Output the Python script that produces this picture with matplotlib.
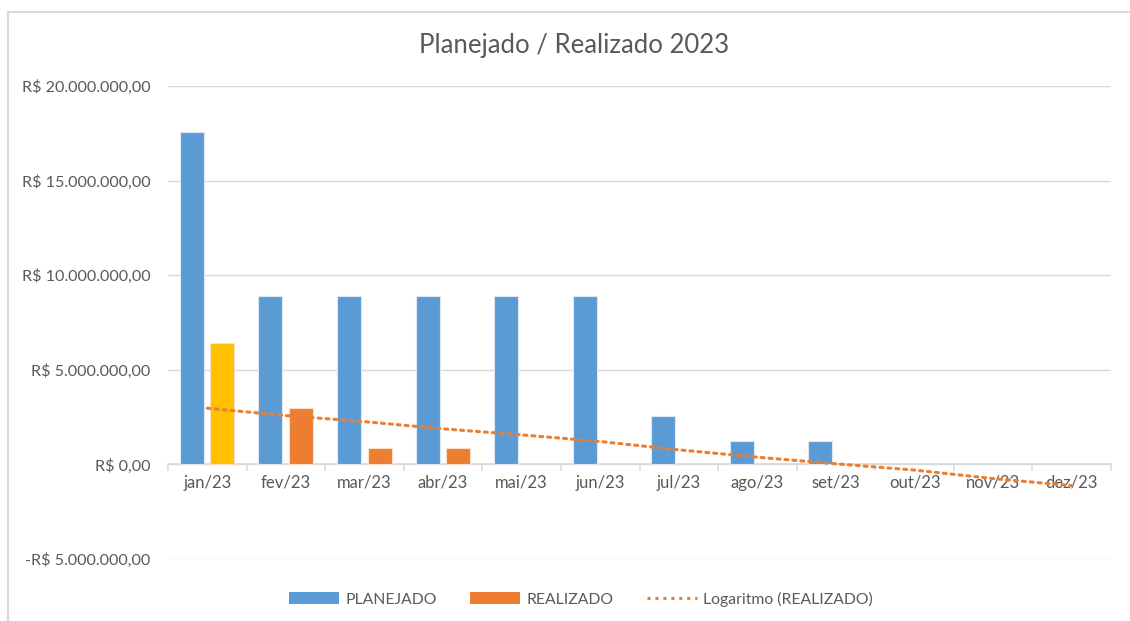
import numpy as np
import matplotlib.pyplot as plt
from matplotlib.lines import Line2D
from matplotlib.patches import Patch

plt.rcParams['font.family'] = ['Lato', 'DejaVu Sans']

meses = ["jan/23", "fev/23", "mar/23", "abr/23", "mai/23", "jun/23",
         "jul/23", "ago/23", "set/23", "out/23", "nov/23", "dez/23"]
planejado = [17.55e6, 8.92e6, 8.92e6, 8.92e6, 8.92e6, 8.92e6,
             2.55e6, 1.23e6, 1.23e6, 0, 0, 0]
realizado = [6.41e6, 2.97e6, 0.86e6, 0.86e6, 0, 0, 0, 0, 0, 0, 0, 0]
# tendencia logaritmica
tendencia = [2.97e6, 2.58e6, 2.26e6, 1.88e6, 1.56e6, 1.21e6,
             0.77e6, 0.38e6, 0.03e6, -0.30e6, -0.75e6, -1.12e6]
yticks = [-5e6, 0, 5e6, 10e6, 15e6, 20e6]

AZUL = '#5B9BD5'
LARANJA = '#ED7D31'
AMARELO = '#FFC000'
CINZA = '#595959'


def brl(v):
    s = f"{abs(v):,.2f}".replace(",", "X").replace(".", ",").replace("X", ".")
    return ("-R$ " if v < 0 else "R$ ") + s


fig = plt.figure(figsize=(11.3, 6.21), dpi=100)
ax = fig.add_axes([168 / 1130, 1 - 559 / 621, (1111 - 168) / 1130, (559 - 86) / 621])

x = np.arange(len(meses))
w = 0.305
cores_real = [AMARELO] + [LARANJA] * (len(meses) - 1)
borda_plan = ['#DCE9F5' if v else 'none' for v in planejado]
borda_real = ['#FBE0CC' if v else 'none' for v in realizado]
ax.bar(x - 0.197, planejado, w, color=AZUL, edgecolor=borda_plan, linewidth=0.8, zorder=3)
ax.bar(x + 0.193, realizado, w, color=cores_real, edgecolor=borda_real, linewidth=0.8, zorder=3)
ax.plot(x, tendencia, color=LARANJA, linestyle=(0, (1, 1.6)), linewidth=2.2,
        dash_capstyle='round', zorder=4)

ax.set_xlim(-0.5, 11.5)
ax.set_ylim(-5e6, 20e6)
ax.set_yticks(yticks)
ax.set_yticklabels([brl(v) for v in yticks], color=CINZA, fontsize=11.6)
ax.tick_params(axis='y', length=0, pad=12.7)
ax.grid(axis='y', color='#D9D9D9', linewidth=1, zorder=0)
for s in ax.spines.values():
    s.set_visible(False)

ax.set_xticks([])
ax.axhline(0, color='#D9D9D9', linewidth=1.2, zorder=2)
for b in np.arange(-0.5, 12, 1):
    ax.plot([b, b], [0, -0.27e6], color='#D9D9D9', linewidth=1.2, zorder=2, clip_on=False)
for i, m in enumerate(meses):
    ax.text(i, -0.55e6, m, ha='center', va='top', color=CINZA, fontsize=12)

fig.text(574 / 1130, 1 - 45 / 621, "Planejado / Realizado 2023", ha='center', va='center',
         color=CINZA, fontsize=18.5)

handles = [Patch(facecolor=AZUL, edgecolor='none'),
           Patch(facecolor=LARANJA, edgecolor='none'),
           Line2D([0], [0], color=LARANJA, linestyle=(0, (1, 1.6)), linewidth=2.2)]
fig.legend(handles, ["PLANEJADO", "REALIZADO", "Logaritmo (REALIZADO)"], loc='center',
           bbox_to_anchor=(581 / 1130, 1 - 599 / 621), ncol=3, frameon=False,
           fontsize=11.3, labelcolor=CINZA, handlelength=3.2, handleheight=0.8,
           columnspacing=2.1, handletextpad=0.4)

# borda do grafico
fig.add_artist(Line2D([8 / 1130, 8 / 1130], [0, 1 - 12 / 621], color='#D9D9D9', linewidth=1.5))
fig.add_artist(Line2D([8 / 1130, 1], [1 - 12 / 621, 1 - 12 / 621], color='#D9D9D9', linewidth=1.5))

fig.savefig('out.png', dpi=100)
